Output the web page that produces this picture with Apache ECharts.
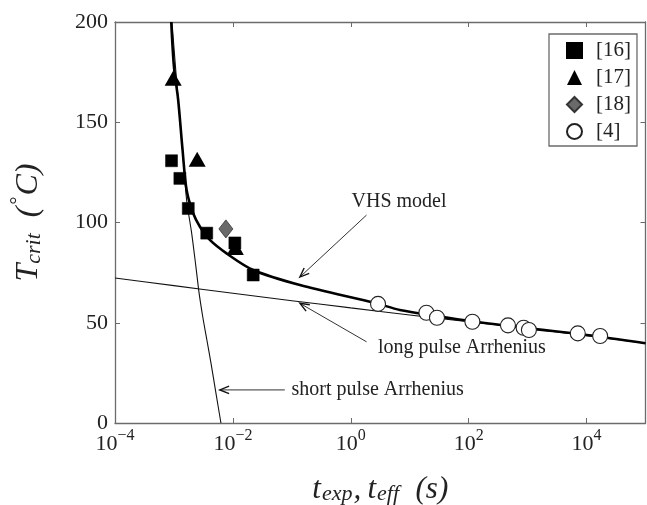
<!DOCTYPE html>
<html><head><meta charset="utf-8">
<script src="https://cdn.jsdelivr.net/npm/echarts@6/dist/echarts.min.js"></script>
<style>html,body{margin:0;padding:0;background:#fff}#c{width:647px;height:505px}</style>
</head><body><div id="c"></div>
<script>
// ---- data (x = time in s, y = T_crit in °C) ----
const ref16X = [9.1e-4, 1.26e-3, 1.75e-3, 3.6e-3, 1.08e-2, 2.21e-2];
const ref16Y = [130.8, 122.0, 107.0, 94.7, 89.8, 73.8];
const ref17X = [9.7e-4, 2.48e-3, 1.1e-2];
const ref17Y = [172.0, 131.5, 87.5];
const ref18X = [7.6e-3];
const ref18Y = [96.8];
const ref4X = [2.9, 19.2, 29, 115.6, 464, 855, 1052, 7.1e3, 1.7e4];
const ref4Y = [59.4, 55.0, 52.5, 50.5, 48.7, 47.5, 46.4, 44.7, 43.4];
const vhsX = [9.0e-4, 1.0e-3, 1.18e-3, 1.40e-3, 1.64e-3, 2.12e-3, 2.76e-3, 4.07e-3, 7.8e-3, 2.21e-2, 0.137, 2.72, 6.8, 100, 1000, 1e4, 1e5];
const vhsY = [200, 177.7, 161.1, 136.2, 116.2, 104.6, 97.9, 91.3, 84.6, 76.3, 68.8, 59.7, 56.4, 51.0, 47.3, 43.9, 39.8];
const shortX = [9.25e-4, 1.18e-3, 1.40e-3, 1.64e-3, 2.0e-3, 2.36e-3, 2.68e-3, 3.1e-3, 3.62e-3, 4.3e-3, 5.05e-3, 6.27e-3];
const shortY = [200, 161.1, 136.2, 111.2, 94.6, 77.9, 64.5, 52.5, 41.4, 29.0, 16.5, 0];
const longX = [1e-4, 1e-3, 1e-2, 1e-1, 1, 10, 100, 1000, 1e4, 1e5];
const longY = [72.3, 68.5, 64.7, 61.0, 57.4, 53.9, 50.5, 47.2, 43.6, 39.8];
const legendNames = ['[16]', '[17]', '[18]', '[4]'];
const xTickExponents = [-4, -2, 0, 2, 4];
const yTicks = [0, 50, 100, 150, 200];

const FONT = '"Liberation Serif", "DejaVu Serif", serif';
const AX = '#6b6b6b';
const lg = v => Math.log10(v);
const pts = (xs, ys) => xs.map((x, i) => [lg(x), ys[i]]);

const chart = echarts.init(document.getElementById('c'), null, {renderer: 'canvas'});

const axisCommon = () => ({
  axisLine: {show: true, onZero: false, lineStyle: {color: AX, width: 1.3}},
  axisTick: {show: true, inside: true, length: 5, lineStyle: {color: AX, width: 1}},
  splitLine: {show: false}
});

const option = {
  animation: false,
  backgroundColor: '#fff',
  grid: {left: 115, right: 1.5, top: 22, bottom: 82, containLabel: false, outerBoundsMode: 'none'},
  xAxis: [
    Object.assign({
      type: 'value', position: 'bottom', min: -4, max: 5, interval: 2,
      axisLabel: {
        show: true, margin: 5, color: '#222',
        formatter: v => (xTickExponents.indexOf(v) < 0) ? '' :
          '{b|10}{e|' + (v < 0 ? '\u2212' : '') + Math.abs(v) + '}',
        rich: {
          b: {fontFamily: FONT, fontSize: 22, lineHeight: 27, verticalAlign: 'bottom', color: '#222'},
          e: {fontFamily: FONT, fontSize: 16, lineHeight: 15, verticalAlign: 'top', color: '#222'}
        }
      },
      name: '{t|t}{s|exp}{t|,\u2009t}{s|eff}{t|\u2002(}{u|s}{t|)}',
      nameLocation: 'middle', nameGap: 48,
      nameTextStyle: {
        rich: {
          t: {fontFamily: FONT, fontSize: 31, fontStyle: 'italic', color: '#222', lineHeight: 34, verticalAlign: 'bottom'},
          u: {fontFamily: FONT, fontSize: 31, fontStyle: 'italic', color: '#222', lineHeight: 34, verticalAlign: 'bottom'},
          s: {fontFamily: FONT, fontSize: 22, fontStyle: 'italic', color: '#222', lineHeight: 26, verticalAlign: 'bottom', padding: [0, 1, 0, 1]}
        }
      }
    }, axisCommon()),
    Object.assign({
      type: 'value', position: 'top', min: -4, max: 5, interval: 2,
      axisLabel: {show: false}
    }, axisCommon())
  ],
  yAxis: [
    Object.assign({
      type: 'value', position: 'left', min: 0, max: 200, interval: 50,
      axisLabel: {show: true, margin: 7, color: '#222', fontFamily: FONT, fontSize: 22},
      name: '{t|T}{s|crit}{t|\u2002(}{d|\u00B0}{c|C}{t|)}',
      nameLocation: 'middle', nameGap: 70, nameRotate: 90,
      nameTextStyle: {
        rich: {
          t: {fontFamily: FONT, fontSize: 32, fontStyle: 'italic', color: '#222', lineHeight: 36, verticalAlign: 'bottom'},
          c: {fontFamily: FONT, fontSize: 32, fontStyle: 'italic', color: '#222', lineHeight: 36, verticalAlign: 'bottom'},
          d: {fontFamily: FONT, fontSize: 20, color: '#222', lineHeight: 20, verticalAlign: 'top', padding: [0, 1, 0, 2]},
          s: {fontFamily: FONT, fontSize: 22, fontStyle: 'italic', color: '#222', lineHeight: 26, verticalAlign: 'bottom'}
        }
      }
    }, axisCommon()),
    Object.assign({
      type: 'value', position: 'right', min: 0, max: 200, interval: 50,
      axisLabel: {show: false}
    }, axisCommon())
  ],
  legend: {
    show: true, orient: 'vertical', left: 549, top: 34,
    align: 'left',
    padding: [6, 6, 4, 17],
    itemGap: 6, itemWidth: 15, itemHeight: 15,
    borderColor: AX, borderWidth: 1.3, backgroundColor: '#fff',
    textStyle: {fontFamily: FONT, fontSize: 21, color: '#222', padding: [0, 0, 0, 9], lineHeight: 20},
    data: legendNames.map(n => ({name: n}))
  },
  series: [
    {type: 'line', name: 'long', data: pts(longX, longY), showSymbol: false, symbol: 'none', smooth: 0.2,
     lineStyle: {color: '#111', width: 1.1}, z: 2, silent: true},
    {type: 'line', name: 'short', data: pts(shortX, shortY), showSymbol: false, symbol: 'none', smooth: 0.3,
     lineStyle: {color: '#111', width: 1.1}, z: 2, silent: true},
    {type: 'line', name: 'vhs', data: pts(vhsX, vhsY), showSymbol: false, symbol: 'none', smooth: 0.3,
     lineStyle: {color: '#000', width: 2.6}, z: 3, silent: true},
    {type: 'scatter', name: legendNames[0], data: pts(ref16X, ref16Y), symbol: 'rect', symbolSize: 12,
     itemStyle: {color: '#000', borderColor: '#000', borderWidth: 0.5, opacity: 1}, z: 5},
    {type: 'scatter', name: legendNames[1], data: pts(ref17X, ref17Y), symbol: 'triangle', symbolSize: [17, 15],
     itemStyle: {color: '#000', opacity: 1}, z: 5},
    {type: 'scatter', name: legendNames[2], data: pts(ref18X, ref18Y), symbol: 'diamond', symbolSize: [14, 18],
     itemStyle: {color: '#6a6a6a', borderColor: '#333', borderWidth: 0.8, opacity: 1}, z: 5},
    {type: 'scatter', name: legendNames[3], data: pts(ref4X, ref4Y), symbol: 'circle', symbolSize: 15,
     itemStyle: {color: '#fff', borderColor: '#222', borderWidth: 1.1, opacity: 1}, z: 6}
  ]
};
chart.setOption(option);

// ---- annotations (anchored in data coordinates) ----
const annotations = [
  {text: 'VHS model', textAt: [1.03, 110.4], from: [1.85, 103.7], to: [0.137, 72.8]},
  {text: 'long pulse Arrhenius', textAt: [2.9, 37.4], from: [1.85, 40.5], to: [0.137, 59.7]},
  {text: 'short pulse Arrhenius', textAt: [0.099, 16.8], from: [0.076, 16.5], to: [6.0e-3, 16.5]}
];
const px = p => chart.convertToPixel({xAxisIndex: 0, yAxisIndex: 0}, [lg(p[0]), p[1]]);
const graphics = [];
annotations.forEach(a => {
  const t = px(a.textAt), f = px(a.from), e = px(a.to);
  graphics.push({type: 'text', x: t[0], y: t[1], z: 20,
    style: {text: a.text, fontFamily: FONT, fontSize: 20, fill: '#222', verticalAlign: 'middle', align: 'left'}});
  graphics.push({type: 'line', z: 20, shape: {x1: f[0], y1: f[1], x2: e[0], y2: e[1]},
    style: {stroke: '#333', lineWidth: 1}});
  const ang = Math.atan2(f[1] - e[1], f[0] - e[0]);
  const L = 10, sp = 0.38;
  graphics.push({type: 'polyline', z: 20, shape: {points: [
    [e[0] + L * Math.cos(ang + sp), e[1] + L * Math.sin(ang + sp)], [e[0], e[1]],
    [e[0] + L * Math.cos(ang - sp), e[1] + L * Math.sin(ang - sp)]]},
    style: {stroke: '#111', lineWidth: 1.4, fill: null}});
});
chart.setOption({graphic: graphics});
</script></body></html>
